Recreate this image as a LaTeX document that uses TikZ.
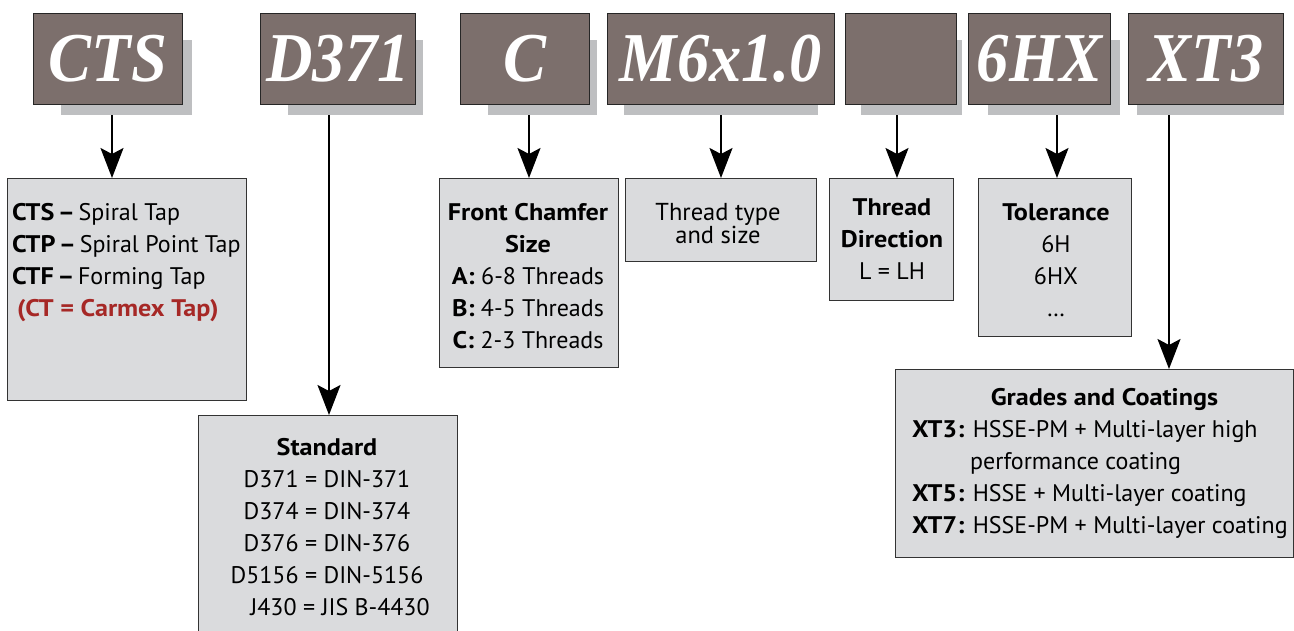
\documentclass[tikz,border=0pt]{standalone}
\usepackage{fontspec}
\setmainfont{PT Sans}[BoldFeatures={FakeStretch=1.09}]
\newfontfamily\titlefont{Liberation Serif}[FakeStretch=0.92]
\usetikzlibrary{arrows.meta}
\definecolor{topfill}{RGB}{124,111,108}
\definecolor{shadowc}{RGB}{190,191,193}
\definecolor{lowfill}{RGB}{218,219,221}
\definecolor{redtxt}{RGB}{166,40,38}
\begin{document}
\begin{tikzpicture}[x=1pt,y=-1pt,
  topbox/.style={draw=black!85, line width=1pt, fill=topfill, anchor=north west, inner sep=0,
    text=white, font=\titlefont\bfseries\itshape\fontsize{70}{70}\selectfont, minimum height=91},
  lowbox/.style={draw=black!80, line width=0.9pt, fill=lowfill, anchor=north west, inner sep=0},
  txt/.style={inner sep=0, font=\fontsize{24}{32}\selectfont},
  arr/.style={line width=2pt, -{Stealth[length=30pt,width=23pt,inset=6pt]}}]
\useasboundingbox (0,0) rectangle (1294,630);
% shadows
\fill[shadowc] (61,40) rectangle (192,115);
\fill[shadowc] (288,40) rectangle (423,115);
\fill[shadowc] (488,40) rectangle (597,115);
\fill[shadowc] (624,40) rectangle (818,115);
\fill[shadowc] (861,40) rectangle (962,115);
\fill[shadowc] (988,40) rectangle (1120,115);
\fill[shadowc] (1137,40) rectangle (1284,115);
% top boxes
\node[topbox, minimum width=149] (cts) at (33,13) {CTS};
\node[topbox, minimum width=155] (std) at (260,13) {D371};
\node[topbox, minimum width=129] (cham) at (460,13) {C};
\node[topbox, minimum width=227] (size) at (607,13) {M6x1.0};
\node[topbox, minimum width=111] (dir) at (845,13) {};
\node[topbox, minimum width=142] (tol) at (968,13) {6HX};
\node[topbox, minimum width=155] (grade) at (1128,13) {XT3};
% lower boxes
\node[lowbox, minimum width=239, minimum height=222] (ctsd) at (7,178) {};
\node[lowbox, minimum width=259, minimum height=225] (stdd) at (198,415) {};
\node[lowbox, minimum width=179, minimum height=189] (chamd) at (439,178) {};
\node[lowbox, minimum width=191, minimum height=83] (sized) at (625,178) {};
\node[lowbox, minimum width=124, minimum height=122] (dird) at (829,178) {};
\node[lowbox, minimum width=153, minimum height=158] (told) at (978,178) {};
\node[lowbox, minimum width=398, minimum height=188] (graded) at (895,369) {};
% texts
\node[txt, anchor=base west] (ctst) at (12,220.7) {\begin{tabular}[t]{@{}l@{}}
\textbf{CTS}\hspace{3.5pt}\textbf{–}\hspace{3.5pt}Spiral Tap\\
\textbf{CTP}\hspace{3.5pt}\textbf{–}\hspace{3.5pt}Spiral Point Tap\\
\textbf{CTF}\hspace{3.5pt}\textbf{–}\hspace{3.5pt}Forming Tap\\
\hspace{5pt}\textcolor{redtxt}{\textbf{(CT = Carmex Tap)}}
\end{tabular}};
\node[txt, anchor=base] (stdt) at (327,455) {\begin{tabular}[t]{@{}c@{}}
\textbf{Standard}\\
D371 = DIN-371\\
D374 = DIN-374\\
D376 = DIN-376\\
D5156 = DIN-5156\\
\hspace{26pt}J430 = JIS B-4430
\end{tabular}};
\node[txt, anchor=base] (chamt) at (528,220) {\begin{tabular}[t]{@{}c@{}}
\textbf{Front Chamfer}\\
\textbf{Size}\\
\textbf{A:} 6-8 Threads\\
\textbf{B:} 4-5 Threads\\
\textbf{C:} 2-3 Threads
\end{tabular}};
\node[txt, anchor=base, font=\fontsize{24.5}{22}\selectfont] (sizet) at (718,220) {\begin{tabular}[t]{@{}c@{}}
Thread type\\
and size
\end{tabular}};
\node[txt, anchor=base] (dirt) at (892,215) {\begin{tabular}[t]{@{}c@{}}
\textbf{Thread}\\
\textbf{Direction}\\
L = LH
\end{tabular}};
\node[txt, anchor=base] (tolt) at (1056,220) {\begin{tabular}[t]{@{}c@{}}
\textbf{Tolerance}\\
6H\\
6HX\\
…
\end{tabular}};
\node[txt, anchor=base west] (gradet) at (912,405) {\begin{tabular}[t]{@{}l@{}}
\multicolumn{1}{@{}c@{}}{\hspace{9pt}\textbf{Grades and Coatings}}\\
\textbf{XT3:} HSSE-PM + Multi-layer high\\
\hspace{58pt}performance coating\\
\textbf{XT5:} HSSE + Multi-layer coating\\
\textbf{XT7:} HSSE-PM + Multi-layer coating
\end{tabular}};
% arrows
\coordinate (a1) at (112,115);
\coordinate (a2) at (329,115);
\coordinate (a3) at (529,115);
\coordinate (a4) at (721,115);
\coordinate (a5) at (897,115);
\coordinate (a6) at (1057,115);
\coordinate (a7) at (1169,115);
\draw[arr] (a1) -- (a1 |- ctsd.north);
\draw[arr] (a2) -- (a2 |- stdd.north);
\draw[arr] (a3) -- (a3 |- chamd.north);
\draw[arr] (a4) -- (a4 |- sized.north);
\draw[arr] (a5) -- (a5 |- dird.north);
\draw[arr] (a6) -- (a6 |- told.north);
\draw[arr] (a7) -- (a7 |- graded.north);
\end{tikzpicture}
\end{document}
